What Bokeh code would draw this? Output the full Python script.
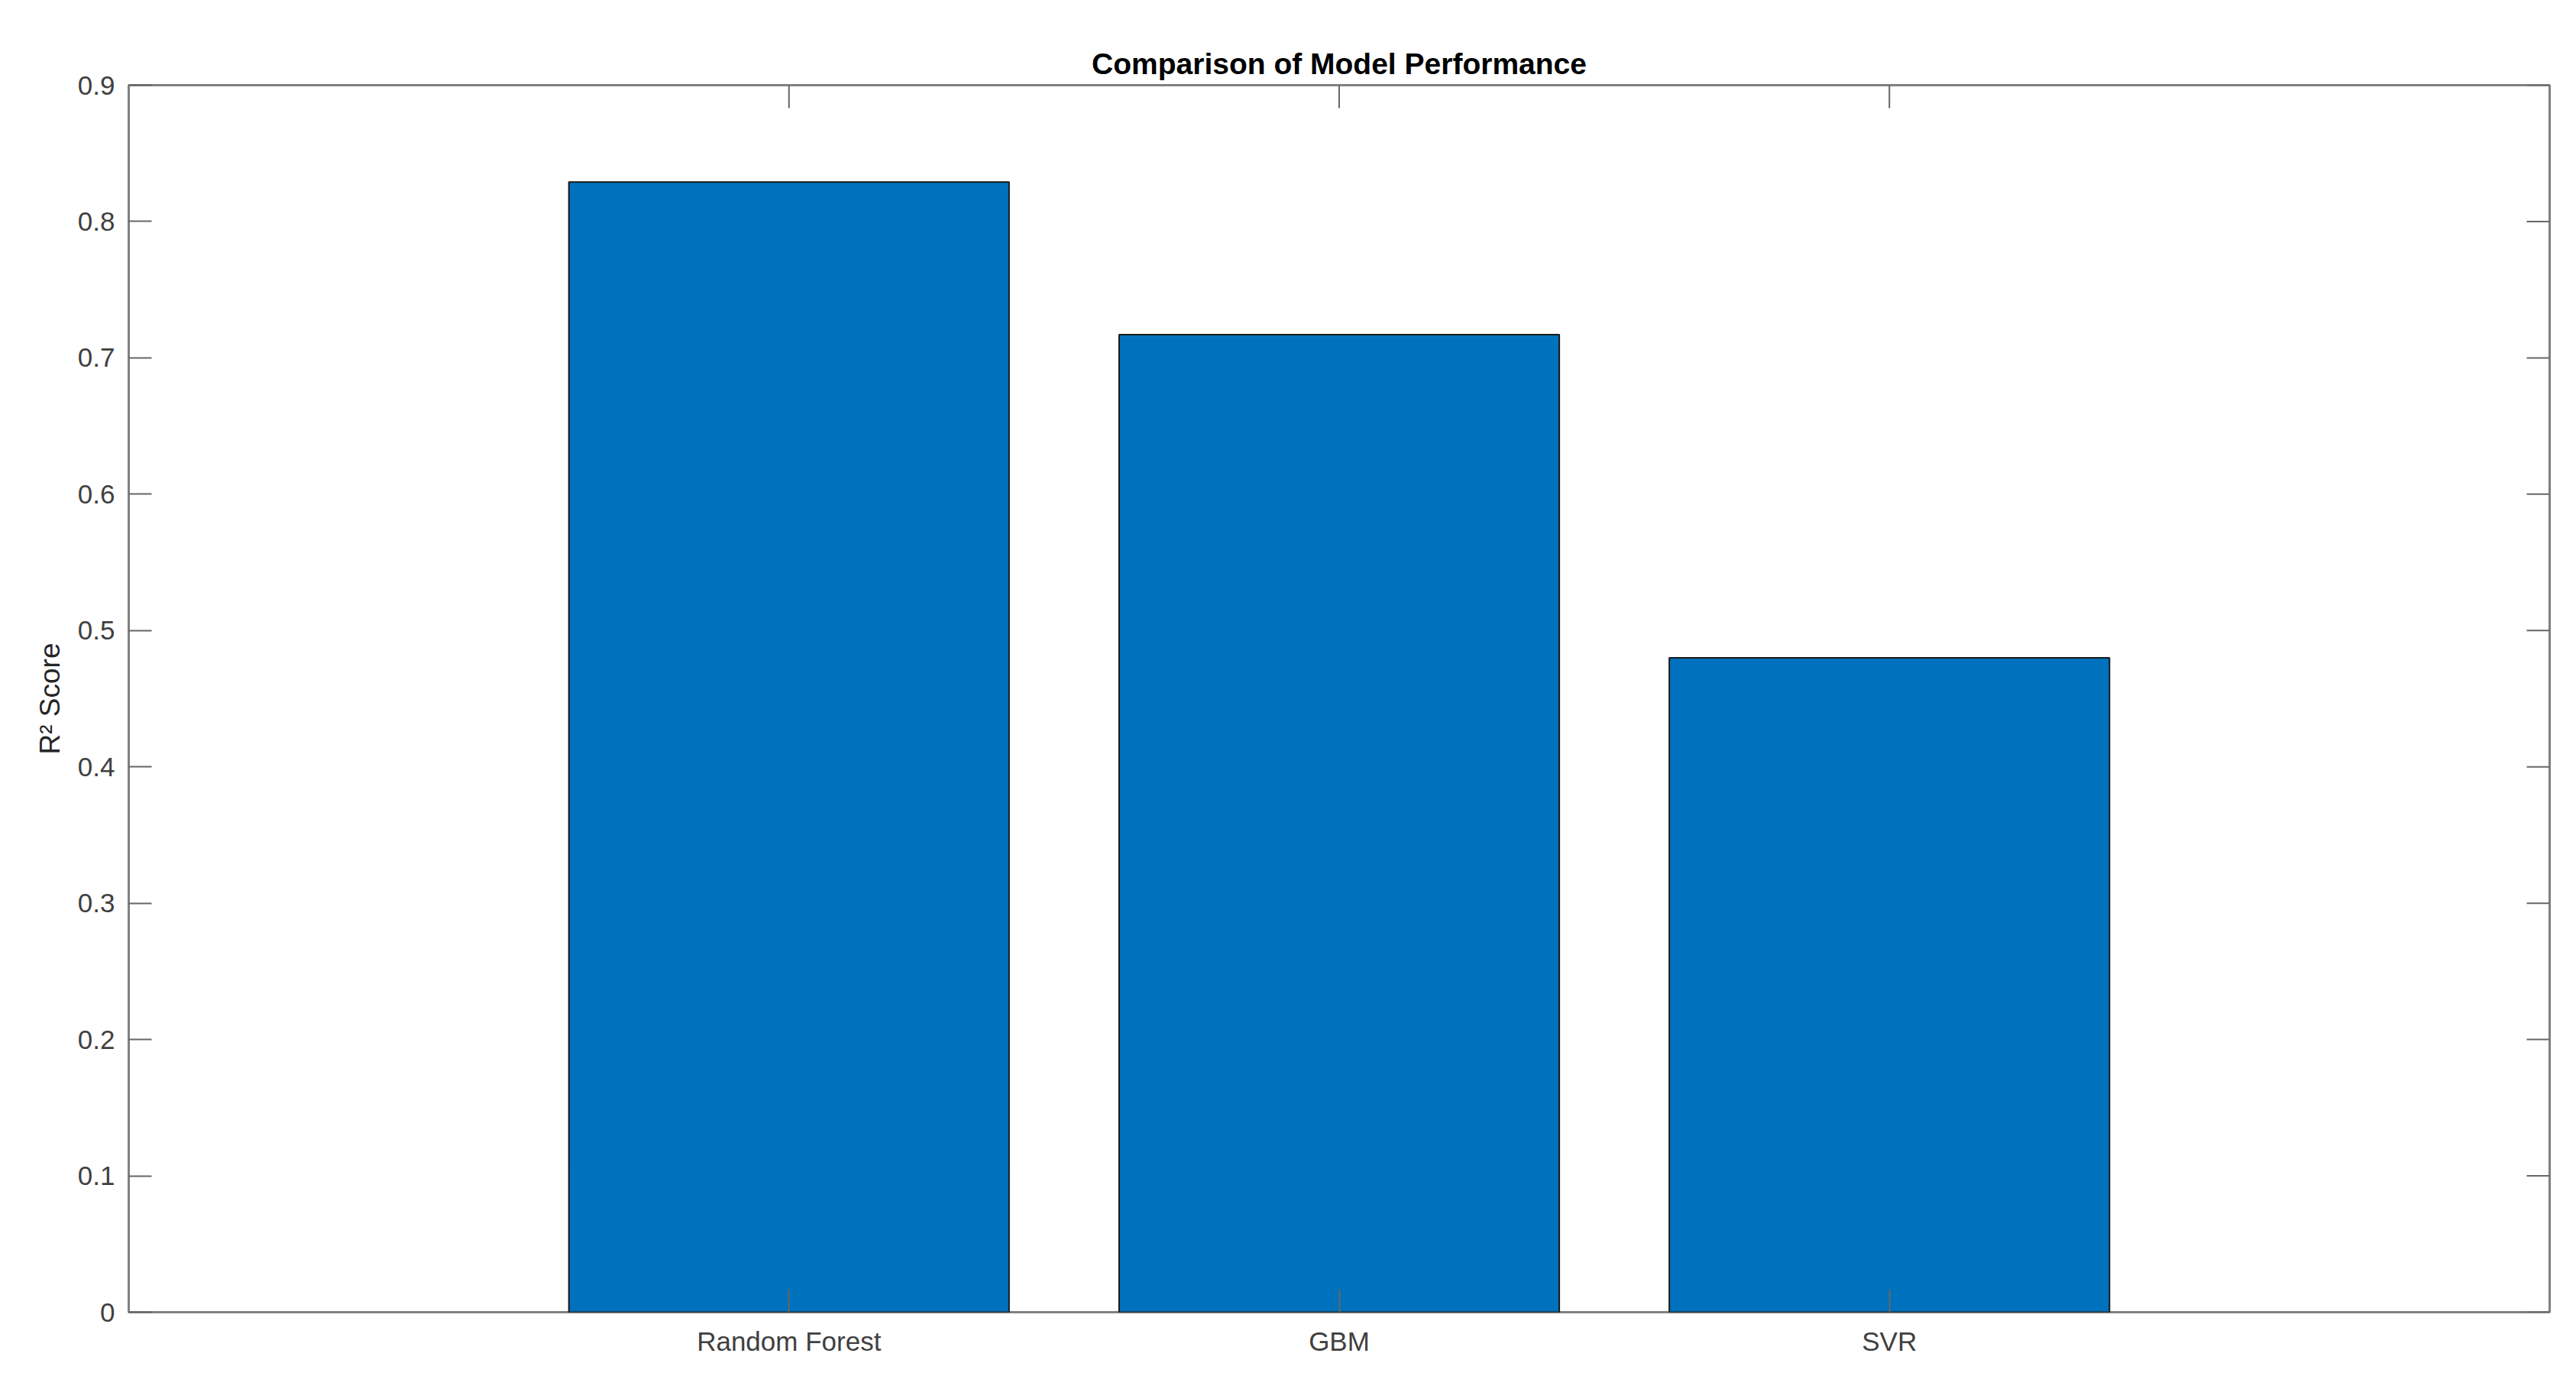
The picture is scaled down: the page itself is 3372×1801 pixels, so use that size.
import math
from bokeh.plotting import figure
from bokeh.models import Range1d, FixedTicker, ColumnDataSource
from bokeh.embed import file_html
from bokeh.resources import INLINE

# ---- data ----
models = ["Random Forest", "GBM", "SVR"]
r2_scores = [0.829, 0.717, 0.480]
yticks = [0, 0.1, 0.2, 0.3, 0.4, 0.5, 0.6, 0.7, 0.8, 0.9]
ytick_labels = ["0", "0.1", "0.2", "0.3", "0.4", "0.5", "0.6", "0.7", "0.8", "0.9"]
title_text = "Comparison of Model Performance"
ylabel_text = "R\u00b2 Score"

xpos = list(range(1, len(models) + 1))
src = ColumnDataSource(dict(x=xpos, top=r2_scores, name=models))

FONT = "Liberation Sans"
AX = "#808080"
TXT = "#404040"
TICK = "#666666"
TICKLEN = 30

XMIN, XMAX = -0.2, 4.2
YMIN, YMAX = 0, 0.9

p = figure(width=3356, height=1785, output_backend="svg", toolbar_location=None,
           x_range=Range1d(XMIN, XMAX), y_range=Range1d(YMIN, YMAX),
           min_border_left=168, min_border_right=19, min_border_top=111, min_border_bottom=68)
p.background_fill_color = "white"
p.border_fill_color = "white"
p.grid.visible = False
p.outline_line_color = AX
p.outline_line_width = 3

p.vbar(x="x", top="top", width=0.8, source=src, fill_color="#0072BD",
       line_color="#1a1a1a", line_width=2)

# mirrored inward ticks on top and right edges (MATLAB "box on" style)
p.ray(x=xpos, y=[YMAX] * len(xpos), length=TICKLEN, length_units="screen",
      angle=-math.pi / 2, line_color=TICK, line_width=2)
p.ray(x=[XMAX] * len(yticks), y=yticks, length=TICKLEN, length_units="screen",
      angle=math.pi, line_color=TICK, line_width=2)

# title
p.title.text = title_text
p.title.align = "center"
p.title.text_font = FONT
p.title.text_font_size = "39px"
p.title.text_font_style = "bold"
p.title.text_color = "black"
p.title.standoff = 14

def style(ax, ticks, overrides):
    ax.ticker = FixedTicker(ticks=ticks)
    ax.major_label_overrides = overrides
    ax.axis_line_color = None
    ax.major_tick_in = TICKLEN
    ax.major_tick_out = 0
    ax.minor_tick_in = 0
    ax.minor_tick_out = 0
    ax.major_tick_line_color = TICK
    ax.major_tick_line_width = 2
    ax.major_label_text_font = FONT
    ax.major_label_text_color = TXT
    ax.major_label_text_font_size = "35px"

xover = {x: m for x, m in zip(xpos, models)}
yover = {t: l for t, l in zip(yticks, ytick_labels)}

style(p.xaxis[0], xpos, xover)
p.xaxis[0].major_label_standoff = 18
style(p.yaxis[0], yticks, yover)
p.yaxis[0].major_label_standoff = 18
p.yaxis[0].axis_label = ylabel_text
p.yaxis[0].axis_label_text_font = FONT
p.yaxis[0].axis_label_text_font_size = "37px"
p.yaxis[0].axis_label_text_font_style = "normal"
p.yaxis[0].axis_label_text_color = "#262626"
p.yaxis[0].axis_label_standoff = 13

open("out.html", "w").write(file_html(p, INLINE))
